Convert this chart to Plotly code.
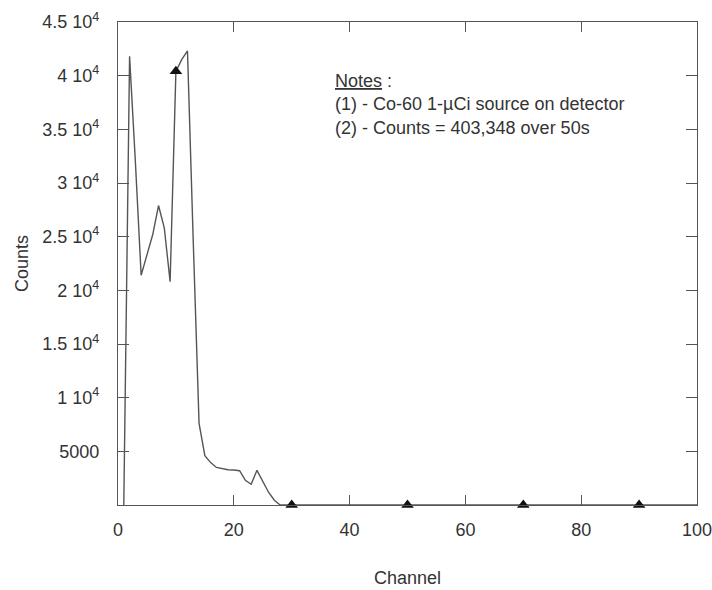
import plotly.graph_objects as go

# ---- data ----
channels = [1, 2, 3, 4, 5, 6, 7, 8, 9, 10, 11, 12, 13, 14, 15, 16, 17, 18, 19, 20,
            21, 22, 23, 24, 25, 26, 27, 28, 30, 50, 70, 90, 100]
counts = [0, 41800, 32000, 21400, 23300, 25200, 27900, 25800, 20800, 40400, 41500, 42300,
          24500, 7600, 4600, 3950, 3500, 3370, 3280, 3260, 3190, 2300, 1930, 3230, 2210,
          1190, 440, 0, 0, 0, 0, 0, 0]
marker_channels = [10, 30, 50, 70, 90]

y_tickvals = [5000, 10000, 15000, 20000, 25000, 30000, 35000, 40000, 45000]
y_ticktext = ["5000", "1 10<sup>4</sup>", "1.5 10<sup>4</sup>", "2 10<sup>4</sup>",
              "2.5 10<sup>4</sup>", "3 10<sup>4</sup>", "3.5 10<sup>4</sup>",
              "4 10<sup>4</sup>", "4.5 10<sup>4</sup>"]
x_tickvals = [0, 20, 40, 60, 80, 100]

notes_text = ("<u>Notes</u> :<br>(1) - Co-60 1-\u00b5Ci source on detector"
              "<br>(2) - Counts = 403,348 over 50s")

marker_counts = [counts[channels.index(c)] for c in marker_channels]

FONT = "Arial, Liberation Sans, sans-serif"
TXT = "#333333"
AX = "#555555"

fig = go.Figure()
fig.add_trace(go.Scatter(
    x=channels, y=counts, mode="lines",
    line=dict(color="#555555", width=1.4),
    showlegend=False, hoverinfo="skip"))
fig.add_trace(go.Scatter(
    x=marker_channels, y=marker_counts, mode="markers",
    marker=dict(symbol="triangle-up", size=11, color="#111111"),
    cliponaxis=False, showlegend=False))

fig.update_layout(
    width=712, height=590,
    margin=dict(l=118, r=15, t=22, b=85),
    paper_bgcolor="white", plot_bgcolor="white",
    font=dict(family=FONT, size=18, color=TXT),
    showlegend=False,
)
fig.update_xaxes(
    range=[0, 100], tickvals=x_tickvals, ticktext=[str(v) for v in x_tickvals],
    showgrid=False, zeroline=False, showline=True, linecolor=AX, linewidth=1.2,
    mirror="ticks", ticks="inside", ticklen=10, tickcolor=AX, tickwidth=1,
    ticklabelstandoff=8, automargin=False, ticklabeloverflow="allow",
    tickfont=dict(size=18),
    title=dict(text="Channel", font=dict(size=18, color=TXT), standoff=32),
)
fig.update_yaxes(
    range=[0, 45000], tickvals=y_tickvals, ticktext=y_ticktext,
    showgrid=False, zeroline=False, showline=True, linecolor=AX, linewidth=1.2,
    mirror="ticks", ticks="inside", ticklen=11, tickcolor=AX, tickwidth=1,
    ticklabelstandoff=14, automargin=False,
    tickfont=dict(size=18),
    title=dict(text="Counts", font=dict(size=18, color=TXT), standoff=8),
)
fig.add_annotation(
    xref="paper", yref="paper", x=0.372, y=0.903, xanchor="left", yanchor="top",
    text=notes_text, showarrow=False, align="left",
    font=dict(family=FONT, size=18, color=TXT),
)

fig.write_html("out.html")
